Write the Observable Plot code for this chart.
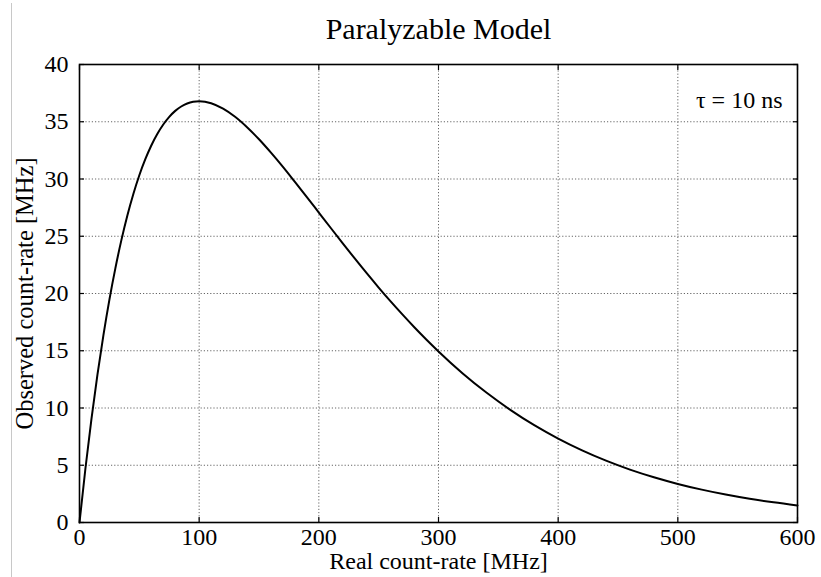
<!DOCTYPE html>
<html>
<head>
<meta charset="utf-8">
<script src="https://cdn.jsdelivr.net/npm/d3@7"></script>
<script src="https://cdn.jsdelivr.net/npm/@observablehq/plot@0.6"></script>
<style>
  html, body { margin: 0; padding: 0; background: #fff; }
  #wrap { position: relative; width: 821px; height: 577px; }
  #edge { position: absolute; left: 11px; top: 3px; bottom: 0; border-left: 1px solid #c8c8c8; }
  #wrap svg, #wrap svg text { font-family: "Liberation Serif", "Times New Roman", serif !important; }
</style>
</head>
<body>
<div id="wrap"><div id="edge"></div></div>
<script>
const title = "Paralyzable Model";
const xLabel = "Real count-rate [MHz]";
const yLabel = "Observed count-rate [MHz]";
const note = "τ = 10 ns";
const xTicks = [0, 100, 200, 300, 400, 500, 600];
const yTicks = [0, 5, 10, 15, 20, 25, 30, 35, 40];

// Real count-rate (MHz) vs observed count-rate (MHz)
const realRate = [0, 5, 10, 15, 20, 25, 30, 35, 40, 45, 50, 55, 60, 65, 70, 75, 80, 85, 90, 95, 100,
  110, 120, 130, 140, 150, 160, 170, 180, 190, 200, 210, 220, 230, 240, 250, 260, 270, 280, 290, 300,
  320, 340, 360, 380, 400, 420, 440, 460, 480, 500, 520, 540, 560, 580, 600];
const observedRate = [0, 4.76, 9.05, 12.91, 16.37, 19.47, 22.22, 24.66, 26.81, 28.69, 30.33, 31.73, 32.93, 33.93, 34.76, 35.43, 35.95, 36.33, 36.59, 36.74, 36.79,
  36.62, 36.14, 35.43, 34.52, 33.47, 32.30, 31.06, 29.75, 28.42, 27.07, 25.72, 24.38, 23.06, 21.77, 20.52, 19.31, 18.15, 17.03, 15.96, 14.94,
  13.04, 11.35, 9.84, 8.50, 7.33, 6.30, 5.40, 4.62, 3.95, 3.37, 2.87, 2.44, 2.07, 1.76, 1.49];

const data = realRate.map((x, i) => ({x, y: observedRate[i]}));
const font = "Liberation Serif";

const chart = Plot.plot({
  width: 821,
  height: 577,
  marginLeft: 79,
  marginRight: 24,
  marginTop: 64,
  marginBottom: 55,
  style: {fontFamily: font, fontSize: "24px", color: "black", background: "white"},
  x: {domain: [0, 600], ticks: xTicks},
  y: {domain: [0, 40], ticks: yTicks},
  marks: [
    Plot.gridX(xTicks, {stroke: "#666", strokeOpacity: 1, strokeWidth: 1, strokeDasharray: "1.2,2"}),
    Plot.gridY(yTicks, {stroke: "#666", strokeOpacity: 1, strokeWidth: 1, strokeDasharray: "1.2,2"}),
    Plot.axisX(xTicks, {anchor: "bottom", tickSize: -5, tickFormat: () => "", label: null, strokeWidth: 1.2}),
    Plot.axisX(xTicks, {anchor: "top", tickSize: -5, tickFormat: () => "", label: null, strokeWidth: 1.2}),
    Plot.axisY(yTicks, {anchor: "left", tickSize: -5, tickFormat: () => "", label: null, strokeWidth: 1.2}),
    Plot.axisY(yTicks, {anchor: "right", tickSize: -5, tickFormat: () => "", label: null, strokeWidth: 1.2}),
    Plot.axisX(xTicks, {anchor: "bottom", tickSize: 0, tickPadding: 5, label: null, fontSize: 24, fontFamily: font}),
    Plot.axisY(yTicks, {anchor: "left", tickSize: 0, tickPadding: 11, label: null, fontSize: 24, fontFamily: font}),
    Plot.frame({stroke: "black", strokeWidth: 1.6}),
    Plot.line(data, {x: "x", y: "y", stroke: "black", strokeWidth: 2, curve: "monotone-x"}),
    Plot.text([title], {frameAnchor: "top", textAnchor: "middle", lineAnchor: "bottom", dy: -26, fontSize: 30, fontFamily: font}),
    Plot.text([xLabel], {frameAnchor: "bottom", textAnchor: "middle", lineAnchor: "bottom", dy: 46, fontSize: 24, fontFamily: font}),
    Plot.text([yLabel], {frameAnchor: "left", textAnchor: "middle", rotate: -90, dx: -54, fontSize: 24.5, fontFamily: font}),
    Plot.text([note], {frameAnchor: "top-right", textAnchor: "end", lineAnchor: "bottom", dx: -15, dy: 43, fontSize: 24, fontFamily: font})
  ]
});
document.getElementById("wrap").appendChild(chart);
</script>
</body>
</html>
